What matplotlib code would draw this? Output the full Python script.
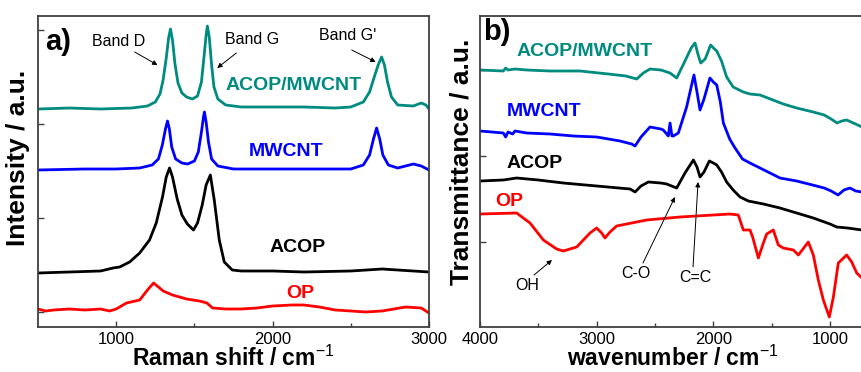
import numpy as np
import matplotlib
matplotlib.use('Agg')
import matplotlib.pyplot as plt

plt.rcParams['font.family'] = ['Liberation Sans', 'DejaVu Sans']
plt.rcParams['mathtext.fontset'] = 'custom'
plt.rcParams['mathtext.rm'] = 'Liberation Sans'
plt.rcParams['mathtext.bf'] = 'Liberation Sans:bold'

# ---- Raman (panel a) ----
raman_mw_x = [500, 700, 900, 1100, 1200, 1250, 1280, 1300, 1320, 1335, 1347, 1360, 1375, 1395, 1420, 1450,
              1487, 1520, 1545, 1560, 1575, 1583, 1595, 1610, 1625, 1650, 1700, 1800, 2000, 2200, 2400,
              2500, 2580, 2620, 2650, 2675, 2697, 2715, 2735, 2760, 2800, 2900, 2950, 2980, 3000]
raman_mw_y = [218, 219, 218, 219, 221, 225, 233, 247, 269, 289, 298, 287, 264, 244, 234, 230,
              228, 231, 245, 268, 292, 301, 290, 262, 240, 228, 222, 220, 220, 220, 219,
              220, 225, 235, 250, 262, 270, 262, 245, 230, 222, 221, 224, 222, 218]

mwcnt_x = [500, 800, 1000, 1150, 1230, 1270, 1295, 1315, 1328, 1340, 1355, 1380, 1420, 1457, 1500, 1525,
           1545, 1558, 1564, 1575, 1590, 1610, 1650, 1750, 2000, 2300, 2500, 2580, 2620, 2645, 2665,
           2685, 2705, 2740, 2800, 2900, 2950, 3000]
mwcnt_y = [157, 158, 158, 159, 162, 168, 182, 198, 206, 198, 180, 168, 164, 163, 166, 175,
           195, 210, 215, 205, 185, 168, 161, 158, 158, 158, 158, 162, 172, 188, 199,
           188, 172, 162, 159, 163, 161, 157]

acop_x = [500, 700, 900, 980, 1022, 1086, 1150, 1213, 1256, 1296, 1320, 1341, 1360, 1390, 1420, 1455,
          1494, 1520, 1550, 1575, 1602, 1627, 1659, 1691, 1742, 1800, 2000, 2200, 2500, 2700, 2900, 3000]
acop_y = [54, 55, 56, 59, 60, 65, 74, 87, 104, 130, 150, 159, 150, 128, 112, 103,
          97, 104, 122, 142, 152, 127, 87, 65, 57, 56, 56, 55, 56, 58, 56, 55]

op_x = [500, 550, 600, 700, 800, 900, 958, 1000, 1066, 1150, 1200, 1239, 1270, 1300, 1360, 1450, 1532,
        1580, 1616, 1700, 1800, 1900, 2000, 2124, 2200, 2300, 2400, 2500, 2595, 2700, 2850, 2950, 3000]
op_y = [18, 16, 17, 18, 17, 18, 16, 18, 24, 27, 37, 44, 40, 36, 32, 28, 26,
        24, 19, 18, 18, 19, 21, 22, 22, 20, 17, 16, 15, 16, 20, 19, 14]

# ---- FTIR (panel b) ----
ir_mw_x = [4000, 3800, 3780, 3760, 3700, 3600, 3400, 3143, 2900, 2750, 2657, 2600, 2543, 2450, 2371,
           2314, 2243, 2190, 2157, 2130, 2108, 2070, 2023, 1990, 1971, 1930, 1886, 1830, 1743, 1686,
           1600, 1489, 1400, 1286, 1143, 1050, 990, 940, 900, 857, 800, 726]
ir_mw_y = [257, 256, 259, 257, 258, 257, 256, 256, 253, 251, 248, 254, 258, 257, 254,
           249, 266, 279, 284, 272, 264, 268, 282, 278, 276, 266, 250, 240, 235, 233,
           232, 227, 223, 219, 215, 212, 208, 204, 206, 207, 204, 200]

ir_cnt_x = [4000, 3800, 3780, 3760, 3720, 3700, 3600, 3400, 3200, 3000, 2800, 2700, 2671, 2620, 2543,
            2450, 2429, 2400, 2386, 2371, 2355, 2343, 2300, 2229, 2190, 2166, 2140, 2114, 2080, 2029,
            2000, 1971, 1940, 1914, 1860, 1814, 1750, 1686, 1600, 1514, 1429, 1286, 1150, 1050, 990,
            931, 880, 829, 780, 726]
ir_cnt_y = [196, 194, 190, 195, 193, 196, 194, 193, 191, 190, 186, 183, 181, 190, 200,
            198, 197, 193, 191, 204, 191, 191, 194, 220, 240, 252, 235, 217, 228, 249,
            245, 242, 225, 204, 188, 179, 168, 164, 159, 154, 149, 146, 142, 139, 136,
            132, 137, 139, 136, 135]

ir_acop_x = [4000, 3800, 3686, 3500, 3286, 3000, 2714, 2671, 2620, 2557, 2450, 2400, 2314, 2243, 2171,
             2140, 2114, 2080, 2034, 2000, 1971, 1930, 1886, 1830, 1771, 1700, 1571, 1429, 1286, 1143,
             1000, 943, 850, 726]
ir_acop_y = [146, 147, 149, 147, 144, 141, 138, 135, 141, 145, 144, 143, 139, 154, 167,
             160, 150, 155, 166, 164, 162, 155, 145, 137, 130, 126, 123, 119, 114, 109,
             103, 100, 99, 97]

ir_op_x = [4000, 3686, 3571, 3457, 3343, 3286, 3171, 3057, 3000, 2957, 2929, 2886, 2829, 2571, 2286,
           1857, 1786, 1743, 1686, 1663, 1614, 1571, 1543, 1486, 1443, 1400, 1314, 1271, 1186, 1143,
           1100, 1057, 1006, 971, 929, 857, 814, 771, 726]
ir_op_y = [113, 114, 104, 87, 78, 76, 80, 94, 99, 94, 89, 95, 101, 107, 110,
           113, 112, 97, 97, 90, 69, 84, 93, 97, 82, 79, 77, 72, 85, 72,
           47, 27, 10, 30, 64, 72, 65, 54, 49]

teal = '#008b80'
spine_c = '#404040'
lw = 2.0

fig = plt.figure(figsize=(8.62, 3.72), dpi=100)
ax1 = fig.add_axes([38 / 862, 45 / 372, 391 / 862, 311 / 372])
ax2 = fig.add_axes([480 / 862, 45 / 372, 385 / 862, 311 / 372])

ax1.plot(raman_mw_x, raman_mw_y, color=teal, lw=lw)
ax1.plot(mwcnt_x, mwcnt_y, color='#0000ff', lw=lw)
ax1.plot(acop_x, acop_y, color='black', lw=lw)
ax1.plot(op_x, op_y, color='#ff0000', lw=lw)

ax2.plot(ir_mw_x, ir_mw_y, color=teal, lw=lw)
ax2.plot(ir_cnt_x, ir_cnt_y, color='#0000ff', lw=lw)
ax2.plot(ir_acop_x, ir_acop_y, color='black', lw=lw)
ax2.plot(ir_op_x, ir_op_y, color='#ff0000', lw=lw)

ax1.set_xlim(500, 3000)
ax1.set_ylim(0, 311)
ax1.set_xticks([1000, 2000, 3000])
ax1.set_xticks([1500, 2500], minor=True)
ax1.set_yticks([15, 109, 203, 297])

ax2.set_xlim(4000, 700)
ax2.set_ylim(0, 311)
ax2.set_xticks([4000, 3000, 2000, 1000])
ax2.set_xticks([3500, 2500, 1500], minor=True)
ax2.set_yticks([85, 171, 257])

for ax in (ax1, ax2):
    for s in ax.spines.values():
        s.set_color(spine_c)
        s.set_linewidth(1.3)
    ax.tick_params(which='both', direction='in', colors=spine_c, labelcolor='black',
                   labelsize=12, top=False, right=False)
    ax.tick_params(which='major', length=4, width=1)
    ax.tick_params(which='minor', length=3, width=1)
    ax.set_yticklabels([])

ax1.set_xlabel('Raman shift / cm$^{\\mathrm{-1}}$', fontsize=16.5, fontweight='bold', labelpad=-1)
ax1.set_ylabel('Intensity / a.u.', fontsize=19, fontweight='bold')
ax1.yaxis.set_label_coords(-0.02, 0.545)
ax2.set_xlabel('wavenumber / cm$^{\\mathrm{-1}}$', fontsize=16.5, fontweight='bold', labelpad=-1)
ax2.set_ylabel('Transmittance / a.u.', fontsize=19, fontweight='bold')
ax2.yaxis.set_label_coords(-0.018, 0.532)

# panel a labels
ax1.text(631, 285, 'a)', fontsize=21, fontweight='bold', ha='center', va='center')
ax1.text(1013, 285, 'Band D', fontsize=11.5, ha='center', va='center')
ax1.text(1869, 287, 'Band G', fontsize=11.5, ha='center', va='center')
ax1.text(2481, 291, "Band G'", fontsize=11.5, ha='center', va='center')
arr = dict(arrowstyle='-|>', color='black', lw=0.7, mutation_scale=7, shrinkA=0, shrinkB=0)
ax1.annotate('', xy=(1264, 262), xytext=(1118, 275), arrowprops=arr)
ax1.annotate('', xy=(1646, 259), xytext=(1768, 274), arrowprops=arr)
ax1.annotate('', xy=(2659, 265), xytext=(2506, 277), arrowprops=arr)
ax1.text(2137, 241, 'ACOP/MWCNT', color=teal, fontsize=14, fontweight='bold', ha='center', va='center')
ax1.text(2086, 175, 'MWCNT', color='#0000ff', fontsize=14, fontweight='bold', ha='center', va='center')
ax1.text(2162, 80, 'ACOP', color='black', fontsize=14, fontweight='bold', ha='center', va='center')
ax1.text(2175, 34, 'OP', color='#ff0000', fontsize=14, fontweight='bold', ha='center', va='center')

# panel b labels
ax2.text(3859, 295, 'b)', fontsize=21, fontweight='bold', ha='center', va='center')
ax2.text(3100, 275, 'ACOP/MWCNT', color=teal, fontsize=14, fontweight='bold', ha='center', va='center')
ax2.text(3451, 216, 'MWCNT', color='#0000ff', fontsize=14, fontweight='bold', ha='center', va='center')
ax2.text(3529, 164, 'ACOP', color='black', fontsize=14, fontweight='bold', ha='center', va='center')
ax2.text(3747, 126, 'OP', color='#ff0000', fontsize=14, fontweight='bold', ha='center', va='center')
ax2.text(3597, 41, 'OH', fontsize=11.5, ha='center', va='center')
ax2.text(2663, 53, 'C-O', fontsize=11.5, ha='center', va='center')
ax2.text(2157, 50, 'C=C', fontsize=11.5, ha='center', va='center')
ax2.annotate('', xy=(3383, 67), xytext=(3537, 52), arrowprops=arr)
ax2.annotate('', xy=(2329, 130), xytext=(2603, 64), arrowprops=arr)
ax2.annotate('', xy=(2131, 145), xytext=(2174, 60), arrowprops=arr)

fig.savefig('out.png', dpi=100)
